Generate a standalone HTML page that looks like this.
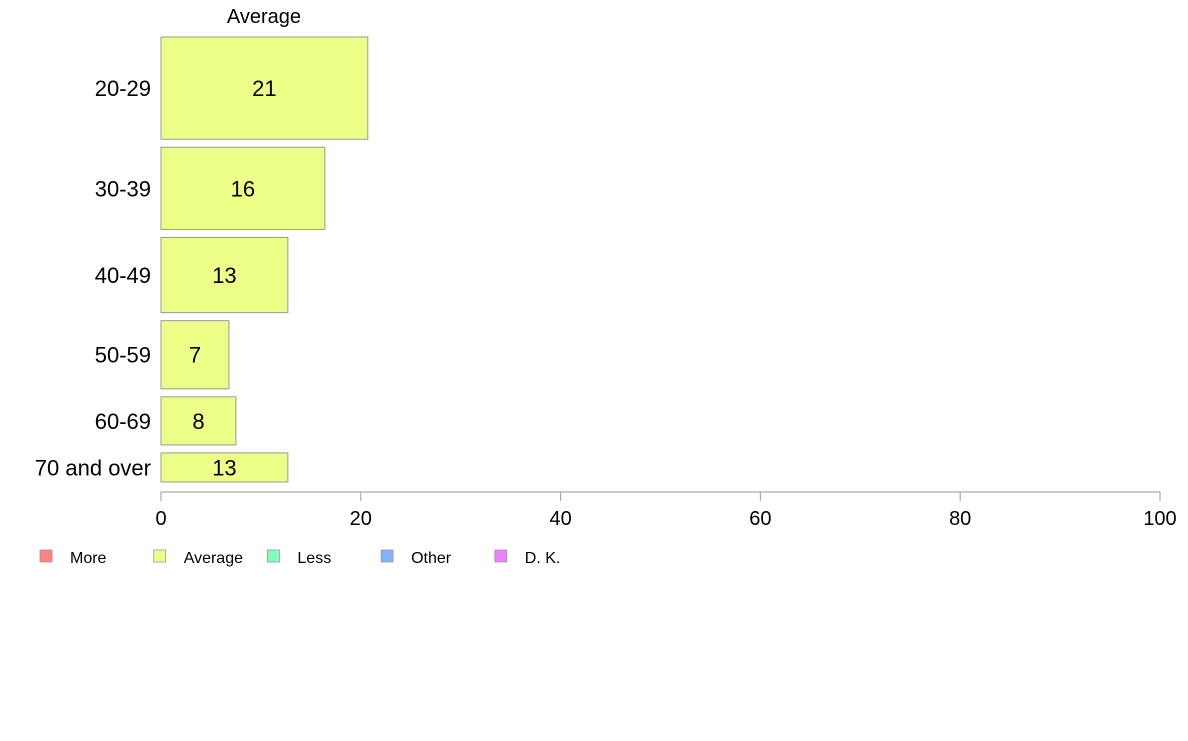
<!DOCTYPE html>
<html><head><meta charset="utf-8"><style>
body{margin:0;background:#fff;}
svg text{font-family:"Liberation Sans",Arial,sans-serif;}
</style></head><body>
<svg id="c" width="1188" height="736">
<text x="264" y="23" font-size="20" text-anchor="middle">Average</text>
<g id="bars"></g>
<g id="axis"></g>
<g id="legend"></g>
</svg>
<script>
const categories=["20-29","30-39","40-49","50-59","60-69","70 and over"];
const values=[20.7,16.4,12.7,6.8,7.5,12.7];
const labels=["21","16","13","7","8","13"];
const weights=[102,82,75,68,48,29];
const ticks=[0,20,40,60,80,100];
const legendItems=["More","Average","Less","Other","D. K."];
const legendColors=["#ff8080","#eeff88","#80ffbb","#80b3ff","#ee80ff"];
const NS="http://www.w3.org/2000/svg";
function mk(t,a,p){const e=document.createElementNS(NS,t);for(const k in a)e.setAttribute(k,a[k]);p.appendChild(e);return e;}
const x0=161,x1=1160,xs=v=>x0+(v-0)/(100-0)*(x1-x0);
const yTop=37,yBottom=482,gap=8;
const totalW=weights.reduce((a,b)=>a+b,0);
const avail=yBottom-yTop-gap*(weights.length-1);
const bars=document.getElementById('bars');
let y=yTop;
categories.forEach((c,i)=>{
 const h=weights[i]/totalW*avail;
 const r=mk('rect',{x:x0,y:y,width:xs(values[i])-x0,height:h,fill:'#eeff88',stroke:'#999','stroke-width':1},bars);
 
 
 const t=mk('text',{x:(x0+xs(values[i]))/2,y:y+h/2+8,'font-size':22,'text-anchor':'middle'},bars);
 t.textContent=labels[i];
 
 
 const l=mk('text',{x:151,y:y+h/2+8,'font-size':22,'text-anchor':'end'},bars);
 l.textContent=c;
 
 
 y+=h+gap;
});
const ax=document.getElementById('axis');
const al=mk('line',{x1:x0,x2:x1,y1:492,y2:492,stroke:'#aaa','stroke-width':1.2},ax);


ticks.forEach(v=>{
 const tl=mk('line',{x1:xs(v),x2:xs(v),y1:492,y2:501,stroke:'#aaa','stroke-width':1.2},ax);
 
 
 const tt=mk('text',{x:xs(v),y:525,'font-size':20,'text-anchor':'middle'},ax);
 tt.textContent=v;
 
 
});
const lg=document.getElementById('legend');
legendItems.forEach((n,i)=>{
 const lx=40+i*113.7;
 const g=mk('g',{},lg);
 
 
 mk('rect',{x:lx,y:550,width:12,height:12,fill:legendColors[i],stroke:'#999','stroke-width':0.8},g);
 const t=mk('text',{x:lx+30,y:563,'font-size':16},g);
 t.textContent=n;
});
</script>
</body></html>
